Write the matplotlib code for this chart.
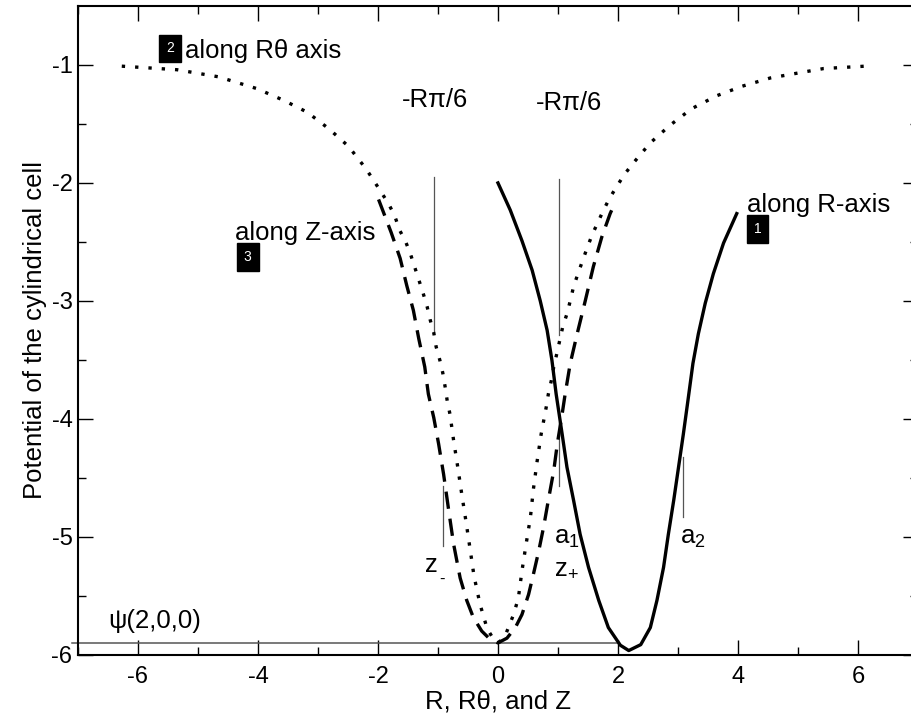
import numpy as np
import matplotlib.pyplot as plt

plt.rcParams['font.family'] = ['Liberation Sans', 'DejaVu Sans']
plt.rcParams['mathtext.fontset'] = 'custom'
plt.rcParams['mathtext.rm'] = 'Liberation Sans'
plt.rcParams['mathtext.it'] = 'Liberation Sans'
plt.rcParams['axes.unicode_minus'] = False

# along R-axis (solid)
r_x = [0.0, 0.205, 0.40, 0.57, 0.705, 0.82, 0.90, 0.97, 1.07, 1.15, 1.26, 1.37, 1.51,
       1.68, 1.84, 2.04, 2.18, 2.38, 2.54, 2.65, 2.76, 2.84, 2.93, 3.01, 3.09, 3.16,
       3.25, 3.34, 3.455, 3.59, 3.76, 3.98]
r_y = [-2.0, -2.23, -2.49, -2.74, -3.0, -3.25, -3.505, -3.79, -4.13, -4.41, -4.69, -4.98, -5.26,
       -5.54, -5.77, -5.92, -5.965, -5.915, -5.77, -5.54, -5.26, -4.98, -4.69, -4.41, -4.13, -3.87,
       -3.53, -3.28, -3.02, -2.77, -2.51, -2.26]

# along R-theta axis (dotted)
t_x = [-6.27, -5.35, -4.66, -4.02, -3.57, -3.18, -2.82, -2.49, -2.20, -2.07, -1.945,
       -1.83, -1.72, -1.64, -1.545, -1.46, -1.39, -1.32, -1.25, -1.18, -1.13, -1.07,
       -1.03, -0.97, -0.92, -0.88, -0.845, -0.80, -0.74, -0.67, -0.60, -0.53, -0.46,
       -0.40, -0.30, -0.18, -0.06, 0.02, 0.12, 0.26, 0.34, 0.40, 0.47, 0.54, 0.59, 0.65,
       0.72, 0.805, 0.84, 0.89, 0.93, 0.98, 1.03, 1.08, 1.15, 1.205, 1.26, 1.33, 1.41,
       1.48, 1.57, 1.66, 1.76, 1.86, 1.98, 2.105, 2.25, 2.54, 2.87, 3.23, 3.65, 4.07,
       4.54, 4.98, 5.43, 6.12]
t_y = [-1.01, -1.04, -1.10, -1.20, -1.30, -1.40, -1.54, -1.69, -1.88, -1.98, -2.08,
       -2.17, -2.28, -2.40, -2.49, -2.60, -2.71, -2.82, -2.93, -3.05, -3.16, -3.27,
       -3.39, -3.50, -3.61, -3.73, -3.85, -3.96, -4.18, -4.41, -4.65, -4.88, -5.12,
       -5.33, -5.57, -5.78, -5.88, -5.895, -5.84, -5.66, -5.52, -5.29, -5.06, -4.84, -4.60, -4.37,
       -4.13, -3.90, -3.79, -3.675, -3.56, -3.45, -3.335, -3.22, -3.11, -3.0, -2.88, -2.775, -2.66,
       -2.56, -2.44, -2.34, -2.23, -2.13, -2.03, -1.93, -1.835, -1.66, -1.51, -1.37, -1.26, -1.18,
       -1.11, -1.07, -1.03, -1.01]

# along Z-axis (dashed)
z_x = [-1.99, -1.78, -1.63, -1.52, -1.41, -1.32, -1.22, -1.16, -1.07, -0.99, -0.906,
       -0.82, -0.74, -0.63, -0.52, -0.41, -0.27, -0.13, 0.0, 0.15, 0.29, 0.40, 0.51,
       0.59, 0.68, 0.76, 0.84, 0.93, 0.99, 1.07, 1.12, 1.205, 1.32, 1.455, 1.59, 1.73,
       1.87, 1.95]
z_y = [-2.14, -2.42, -2.64, -2.87, -3.08, -3.32, -3.56, -3.79, -3.99, -4.21, -4.47,
       -4.78, -5.06, -5.35, -5.54, -5.685, -5.80, -5.87, -5.90, -5.86, -5.77, -5.66, -5.49,
       -5.32, -5.12, -4.92, -4.69, -4.44, -4.21, -3.96, -3.79, -3.53, -3.28, -3.0, -2.71, -2.46,
       -2.26, -2.17]

psi_level = -5.9
psi_xmax = 2.0

# vertical marker lines: x, ymin, ymax
marks = [(-1.06, -3.28, -1.95), (1.02, -3.29, -1.97),
         (-0.92, -5.08, -4.57), (1.02, -4.57, -4.03), (3.08, -4.83, -4.32)]

fig = plt.figure(figsize=(9.11, 7.18), dpi=100)
ax = fig.add_axes([0.0856, 0.0882, 0.922, 0.9034])

ax.plot([-7.1, psi_xmax], [psi_level, psi_level], color='#555555', lw=1.1, clip_on=False)
for mx, y0, y1 in marks:
    ax.plot([mx, mx], [y0, y1], color='#555555', lw=0.9)

lw = 2.4
ax.plot(t_x, t_y, color='black', lw=lw, linestyle=(0, (1, 3.0)))
ax.plot(z_x, z_y, color='black', lw=lw, linestyle=(0, (5.2, 3.0)))
ax.plot(r_x, r_y, color='black', lw=lw, solid_joinstyle='round')

ax.set_xlim(-7, 7)
ax.set_ylim(-6, -0.5)
ax.set_xticks(np.arange(-6, 7, 2))
ax.set_xticks(np.arange(-7, 8, 2), minor=True)
ax.set_yticks(np.arange(-6, -0.5, 1))
ax.set_yticks(np.arange(-5.5, -0.5, 1), minor=True)
ax.tick_params(which='both', direction='in', top=True, right=True, width=1.0, labelsize=17)
ax.tick_params(which='major', length=10.8)
ax.tick_params(which='minor', length=5.8)
ax.tick_params(axis='x', pad=8)
ax.tick_params(axis='y', pad=4)
for s in ax.spines.values():
    s.set_linewidth(1.5)

ax.set_xlabel('R, R\u03b8, and Z', fontsize=18.5, labelpad=1)
ax.set_ylabel('Potential of the cylindrical cell', fontsize=18.5, labelpad=3)

fs = 18.5
box = dict(boxstyle='square,pad=0.5', fc='black', ec='black')
ax.text(-5.47, -0.86, '2', color='white', fontsize=10, ha='center', va='center', bbox=box)
ax.text(-5.21, -0.943, 'along R\u03b8 axis', fontsize=fs, va='baseline')
ax.text(-4.375, -2.486, 'along Z-axis', fontsize=fs, va='baseline')
ax.text(-4.17, -2.626, '3', color='white', fontsize=10, ha='center', va='center', bbox=box)
ax.text(4.15, -2.246, 'along R-axis', fontsize=fs, va='baseline')
ax.text(4.33, -2.39, '1', color='white', fontsize=10, ha='center', va='center', bbox=box)
ax.text(-1.05, -1.357, '-R\u03c0/6', fontsize=fs, ha='center', va='baseline')
ax.text(1.19, -1.38, '-R\u03c0/6', fontsize=fs, ha='center', va='baseline')
ax.text(-1.21, -5.30, 'z', fontsize=fs, va='baseline')
ax.text(-0.98, -5.40, '-', fontsize=12, va='baseline')
ax.text(0.94, -5.06, r'$\mathregular{a_{1}}$', fontsize=fs, va='baseline')
ax.text(0.94, -5.32, r'$\mathregular{z_{+}}$', fontsize=fs, va='baseline')
ax.text(3.04, -5.06, r'$\mathregular{a_{2}}$', fontsize=fs, va='baseline')
ax.text(-6.5, -5.77, '\u03c8(2,0,0)', fontsize=fs, va='baseline')

fig.savefig('out.png', dpi=100)
